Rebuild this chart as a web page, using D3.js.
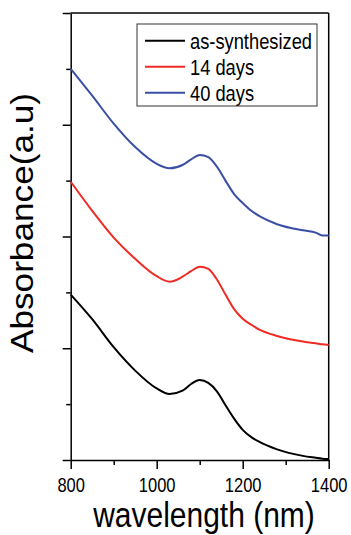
<!DOCTYPE html>
<html>
<head>
<meta charset="utf-8">
<script src="https://cdn.jsdelivr.net/npm/d3@7"></script>
<style>
  body { margin: 0; background: #fff; }
  svg { display: block; font-family: "Liberation Sans", Arial, sans-serif; }
</style>
</head>
<body>
<svg id="chart" width="351" height="535"></svg>
<script>
var wavelength = [800, 850, 900, 950, 1000, 1030, 1060, 1080, 1100, 1120, 1140, 1160, 1180, 1200, 1220, 1240, 1280, 1340, 1370, 1385, 1400]
var asSynthesized = [1.48, 1.26, 1.01, 0.80, 0.64, 0.59, 0.62, 0.68, 0.715, 0.69, 0.615, 0.49, 0.37, 0.27, 0.205, 0.16, 0.095, 0.037, 0.02, 0.012, 0.008]
var days14 = [2.49, 2.23, 1.99, 1.80, 1.645, 1.595, 1.64, 1.69, 1.73, 1.71, 1.615, 1.48, 1.35, 1.265, 1.21, 1.165, 1.11, 1.06, 1.045, 1.035, 1.03]
var days40 = [3.50, 3.26, 3.01, 2.80, 2.65, 2.61, 2.64, 2.69, 2.73, 2.71, 2.625, 2.50, 2.38, 2.30, 2.23, 2.18, 2.11, 2.055, 2.035, 2.01, 2.01]

var seriesNames = ["as-synthesized", "14 days", "40 days"]
var seriesValues = [asSynthesized, days14, days40]
var seriesColors = ["#000000", "#ee2b24", "#3a4ea5"]

var xTicks = [800, 900, 1000, 1100, 1200, 1300, 1400]
var xLabels = [800, 1000, 1200, 1400]
var yTicks = [0, 0.5, 1, 1.5, 2, 2.5, 3, 3.5, 4]

var svg = d3.select("#chart")
var plotLeft = 70.7, plotRight = 328.7, plotTop = 13, plotBottom = 460

var x = d3.scaleLinear().domain([800, 1400]).range([plotLeft, plotRight])
var y = d3.scaleLinear().domain([0, 4]).range([plotBottom, plotTop])

// frame (top + right)
svg.append("line")
    .attr("x1", x(800)).attr("x2", x(1400))
    .attr("y1", y(4)).attr("y2", y(4))
    .attr("stroke", "#000").attr("stroke-width", 1.5)
svg.append("line")
    .attr("x1", x(1400)).attr("x2", x(1400))
    .attr("y1", y(4)).attr("y2", y(0))
    .attr("stroke", "#000").attr("stroke-width", 1.5)

// x axis
var gx = svg.append("g")
    .attr("transform", "translate(0," + plotBottom + ")")
    .call(d3.axisBottom(x).tickValues(xTicks).tickSize(9).tickSizeOuter(0)
        .tickFormat(function(d) { return xLabels.indexOf(d) >= 0 ? d : "" }))
gx.select(".domain").attr("stroke-width", 1.5)
gx.selectAll(".tick line")
    .attr("stroke-width", 1.5)
    .attr("y2", function(d) { return xLabels.indexOf(d) >= 0 ? 9 : 5 })
gx.selectAll(".tick text")
    .attr("y", 0).attr("dy", null)
    .attr("transform", "translate(0,31.5) scale(1,1.22)")
    .style("font-size", "16.5px")
    .style("font-family", "Liberation Sans, Arial, sans-serif")
    .attr("fill", "#000")

// y axis, no labels
var gy = svg.append("g")
    .attr("transform", "translate(" + plotLeft + ",0)")
    .call(d3.axisLeft(y).tickValues(yTicks).tickSize(8).tickSizeOuter(0).tickFormat(""))
gy.select(".domain").attr("stroke-width", 1.5)
gy.selectAll(".tick line")
    .attr("stroke-width", 1.5)
    .attr("x2", function(d) { return d % 1 === 0 ? -8 : -4.5 })

// curves
var line = d3.line()
    .x(function(d) { return x(d[0]) })
    .y(function(d) { return y(d[1]) })
    .curve(d3.curveMonotoneX)

seriesValues.forEach(function(vals, i) {
    svg.append("path")
        .datum(wavelength.map(function(w, j) { return [w, vals[j]] }))
        .attr("d", line)
        .attr("fill", "none")
        .attr("stroke", seriesColors[i])
        .attr("stroke-width", 2)
        .attr("stroke-linejoin", "round")
})

// legend
var lg = svg.append("g")
lg.append("rect")
    .attr("x", 137).attr("y", 24)
    .attr("width", 180).attr("height", 82)
    .attr("fill", "#fff").attr("stroke", "#333").attr("stroke-width", 1)
seriesNames.forEach(function(name, i) {
    var cy = 40.7 + i * 26
    lg.append("line")
        .attr("x1", 145).attr("x2", 185)
        .attr("y1", cy).attr("y2", cy)
        .attr("stroke", seriesColors[i]).attr("stroke-width", 2)
    lg.append("text")
        .attr("transform", "translate(190," + (cy + 8) + ") scale(1,1.2)")
        .style("font-size", "18.3px")
        .text(name)
})

// axis titles
svg.append("text")
    .attr("transform", "translate(204,527) scale(1,1.15)")
    .attr("text-anchor", "middle")
    .style("font-size", "30px")
    .text("wavelength (nm)")
svg.append("text")
    .attr("transform", "translate(33,223) rotate(-90) scale(1.1,1)")
    .attr("text-anchor", "middle")
    .style("font-size", "32px")
    .text("Absorbance(a.u)")
</script>
</body>
</html>
